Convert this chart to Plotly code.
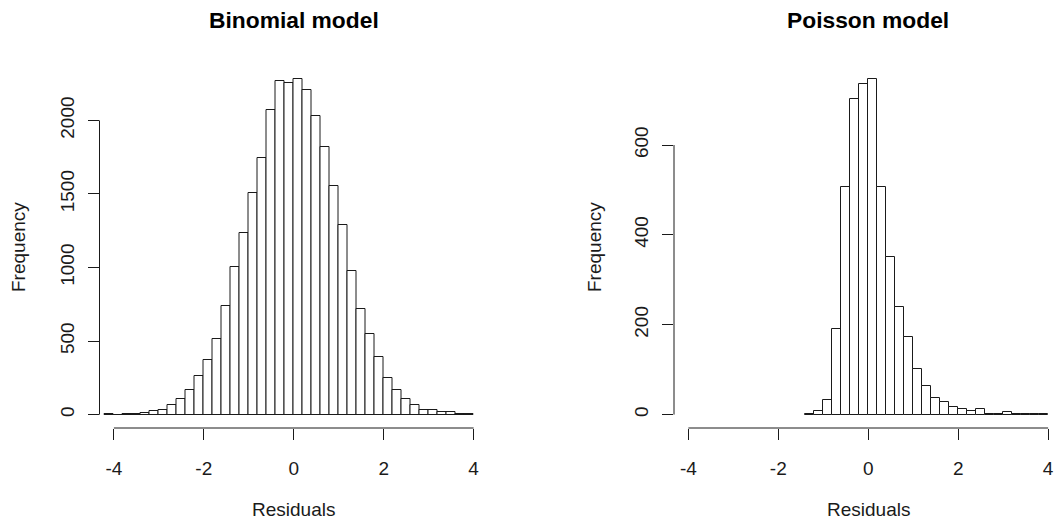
import plotly.graph_objects as go

# Histogram bins are 0.2 wide; each list gives the left edge of the first bin and the counts.
binomial_start = -4.2
binomial_counts = [5, 0, 3, 4, 13, 22, 32, 63, 106, 170, 260, 373, 513, 741, 1001,
                   1238, 1507, 1745, 2072, 2270, 2252, 2279, 2207, 2032, 1819, 1557,
                   1288, 976, 716, 545, 391, 249, 170, 106, 63, 29, 29, 18, 18, 6, 5]

poisson_start = -1.4
poisson_counts = [2, 7, 32, 190, 507, 703, 735, 746, 507, 350, 240, 172, 101, 64,
                  37, 29, 16, 13, 9, 13, 2, 2, 5, 1, 1, 1, 1]

bin_width = 0.2

x_tick_vals = [-4, -2, 0, 2, 4]
x_tick_text = ["-4", "-2", "0", "2", "4"]
binomial_y_ticks = [0, 500, 1000, 1500, 2000]
poisson_y_ticks = [0, 200, 400, 600]

titles = ["Binomial model", "Poisson model"]
x_label = "Residuals"
y_label = "Frequency"

W, H = 1057, 527
FONT = "Liberation Sans, Arial, sans-serif"
INK = "#1a1a1a"

# pixel layout of the two plot regions
top, bottom = 65.7, 428.4
left_dom = (99.5, 488.0)
right_dom = (674.0, 1057.0)
px_per_unit = (left_dom[1] - left_dom[0]) / 8.64
plot_h = bottom - top


def centers(start, counts):
    return [round(start + bin_width * (i + 0.5), 4) for i in range(len(counts))]


def paper_y(px):
    # pixel row -> paper coordinate of the plotting area
    return (bottom - px) / plot_h


fig = go.Figure()

for idx, (start, counts) in enumerate([(binomial_start, binomial_counts),
                                       (poisson_start, poisson_counts)]):
    fig.add_trace(go.Bar(
        x=centers(start, counts), y=counts, width=bin_width,
        marker=dict(color="white", line=dict(color=INK, width=1)),
        xaxis="x" if idx == 0 else "x2", yaxis="y" if idx == 0 else "y2",
        showlegend=False, hoverinfo="x+y",
    ))


def yrange(counts):
    m = max(counts)
    return [-0.04 * m, 1.04 * m]


axis_common = dict(
    showgrid=False, zeroline=False, showline=False,
    ticks="outside", ticklen=11, tickwidth=1, tickcolor=INK,
    tickfont=dict(family=FONT, size=19, color=INK),
    automargin=False, fixedrange=True,
)

right_width_units = (right_dom[1] - right_dom[0]) / px_per_unit

fig.update_layout(
    width=W, height=H,
    margin=dict(l=0, r=0, t=top, b=H - bottom, pad=0),
    paper_bgcolor="white", plot_bgcolor="white",
    bargap=0,
    xaxis=dict(domain=[left_dom[0] / W, left_dom[1] / W], range=[-4.32, 4.32],
               tickvals=x_tick_vals, ticktext=x_tick_text, anchor="y",
               ticklabelstandoff=12, **axis_common),
    yaxis=dict(domain=[0, 1], range=yrange(binomial_counts), tickvals=binomial_y_ticks,
               ticktext=[str(v) for v in binomial_y_ticks], tickangle=-90,
               anchor="x", ticklabelstandoff=6, **axis_common),
    xaxis2=dict(domain=[right_dom[0] / W, 1.0], range=[-4.32, -4.32 + right_width_units],
                tickvals=x_tick_vals, ticktext=x_tick_text, anchor="y2",
                ticklabelstandoff=12, **axis_common),
    yaxis2=dict(domain=[0, 1], range=yrange(poisson_counts), tickvals=poisson_y_ticks,
                ticktext=[str(v) for v in poisson_y_ticks], tickangle=-90,
                anchor="x2", ticklabelstandoff=6, **axis_common),
)

# axis lines spanning only from first to last tick
shapes = []
for xr, yr, yt in [("x", "y", binomial_y_ticks), ("x2", "y2", poisson_y_ticks)]:
    shapes.append(dict(type="line", xref=xr, yref=yr + " domain",
                       x0=min(x_tick_vals), x1=max(x_tick_vals), y0=0, y1=0,
                       line=dict(color=INK, width=1)))
    shapes.append(dict(type="line", xref=xr + " domain", yref=yr,
                       x0=0, x1=0, y0=min(yt), y1=max(yt),
                       line=dict(color=INK, width=1)))
fig.update_layout(shapes=shapes)

annotations = []
for i, xr in enumerate(["x", "x2"]):
    annotations.append(dict(text="<b>%s</b>" % titles[i], xref=xr, x=0,
                            yref="paper", y=paper_y(20),
                            showarrow=False, xanchor="center", yanchor="middle",
                            font=dict(family=FONT, size=22.8, color="black")))
    annotations.append(dict(text=x_label, xref=xr, x=0,
                            yref="paper", y=paper_y(510),
                            showarrow=False, xanchor="center", yanchor="middle",
                            font=dict(family=FONT, size=19, color=INK)))
for xpx in (18, 594):
    annotations.append(dict(text=y_label, xref="paper", x=xpx / W, yref="paper",
                            y=0.5, textangle=-90, showarrow=False,
                            xanchor="center", yanchor="middle",
                            font=dict(family=FONT, size=19, color=INK)))
fig.update_layout(annotations=annotations)

fig.write_html("out.html", config={"displayModeBar": False})
